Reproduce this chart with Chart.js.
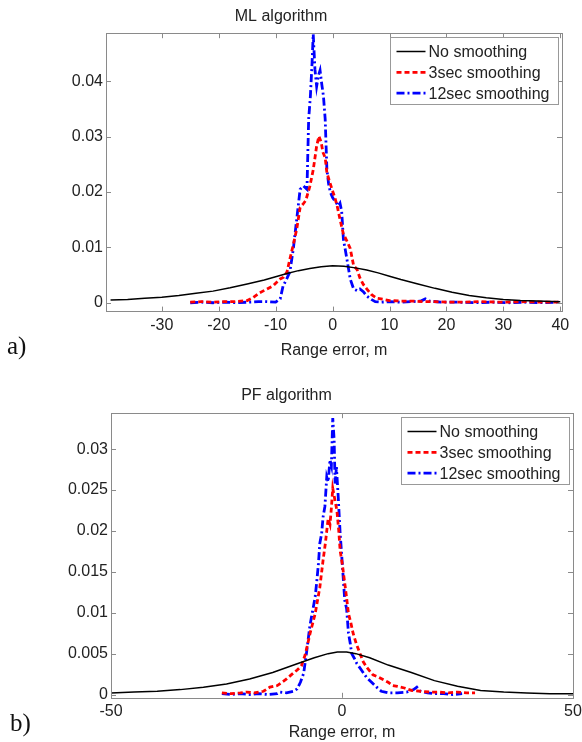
<!DOCTYPE html>
<html>
<head>
<meta charset="utf-8">
<script src="https://cdn.jsdelivr.net/npm/chart.js@4"></script>
<style>
  body { margin: 0; background: #fff; width: 582px; height: 742px; position: relative; overflow: hidden; }
  canvas { position: absolute; left: 0; }
  .tag { position: absolute; font-family: 'Liberation Serif', 'Times New Roman', serif; font-size: 25px; color: #111; line-height: 28px; }
</style>
</head>
<body>
<canvas id="mlChart" width="582" height="371" style="top:0"></canvas>
<canvas id="pfChart" width="582" height="371" style="top:371px"></canvas>
<div class="tag" style="left:7px;top:332px">a)</div>
<div class="tag" style="left:10px;top:709px">b)</div>
<script>
// ---- ML algorithm (top) ----
var mlNoneX = [-39, -36, -33, -30, -27, -24, -21, -18, -15, -12, -10, -8, -6, -4, -2, 0, 2, 4, 6, 8, 10, 12, 15, 18, 21, 24, 27, 30, 33, 36, 40];
var mlNoneY = [0.0005, 0.0006, 0.0008, 0.0010, 0.0013, 0.0017, 0.0021, 0.0027, 0.0034, 0.0041, 0.0047, 0.0053, 0.0058, 0.0062, 0.0065, 0.0067, 0.0066, 0.0063, 0.0059, 0.0054, 0.0048, 0.0042, 0.0034, 0.0026, 0.0019, 0.0013, 0.0009, 0.0006, 0.0004, 0.0003, 0.0002];

var mlS3X = [-25, -23, -21, -19, -17, -15, -14, -12.8, -11.5, -10.4, -9.2, -8.6, -8, -7.5, -6.9, -6.3, -5.7, -5.2, -4.7, -4.0, -3.4, -2.8, -2.4, -2.0, -1.7, -1.3, -1.0, -0.5, 0, 0.4, 0.8, 1.3, 1.9, 2.5, 3.1, 3.7, 4.3, 4.8, 5.4, 6, 6.8, 7.8, 9, 10, 12, 14, 16, 18, 20, 23, 26, 30, 34, 37, 40];
var mlS3Y = [0.0001, 0.0002, 0.0001, 0.0002, 0.0002, 0.0004, 0.0009, 0.0018, 0.0025, 0.0031, 0.0043, 0.0046, 0.0056, 0.0079, 0.0105, 0.0133, 0.0172, 0.0178, 0.0185, 0.0210, 0.0240, 0.0283, 0.0301, 0.0290, 0.0272, 0.0262, 0.0235, 0.0218, 0.0202, 0.0190, 0.0175, 0.0151, 0.0124, 0.0112, 0.0098, 0.0067, 0.0060, 0.0045, 0.0033, 0.0025, 0.0015, 0.0008, 0.0006, 0.0004, 0.0003, 0.0003, 0.0002, 0.0002, 0.0001, 0.0001, 0.0002, 0.0001, 0.0002, 0.0001, 0.0001];

var mlS12X = [-25, -23, -21, -19, -17, -15, -13, -11.5, -10, -9.2, -8.7, -8.1, -7.5, -6.9, -6.3, -5.7, -5.1, -4.5, -4.2, -3.9, -3.6, -3.4, -3.1, -2.8, -2.5, -2.2, -1.9, -1.6, -1.3, -1.0, -0.7, -0.4, 0, 0.4, 1.0, 1.3, 1.6, 1.9, 2.5, 3.1, 3.7, 4.3, 4.8, 5.4, 6, 6.8, 7.5, 8.5, 10, 12, 14, 15.5, 16.3, 17, 19, 22, 25, 28, 31, 34, 37, 40];
var mlS12Y = [0.0000, 0.0001, 0.0000, 0.0001, 0.0000, 0.0001, 0.0002, 0.0002, 0.0001, 0.0007, 0.0030, 0.0042, 0.0056, 0.0097, 0.0151, 0.0205, 0.0211, 0.0205, 0.0332, 0.0373, 0.0434, 0.0485, 0.0422, 0.0391, 0.0410, 0.0420, 0.0395, 0.0373, 0.0332, 0.0241, 0.0215, 0.0200, 0.0190, 0.0184, 0.0175, 0.0180, 0.0165, 0.0115, 0.0080, 0.0043, 0.0025, 0.0022, 0.0025, 0.0020, 0.0012, 0.0006, 0.0002, 0.0001, 0.0002, 0.0001, 0.0002, 0.0003, 0.0007, 0.0003, 0.0001, 0.0001, 0.0000, 0.0001, 0.0000, 0.0001, 0.0000, 0.0001];

var mlXTicks = [-30, -20, -10, 0, 10, 20, 30, 40];
var mlYTicks = [0, 0.01, 0.02, 0.03, 0.04];

// ---- PF algorithm (bottom) ----
var pfNoneX = [-50, -45, -40, -35, -30, -25, -20, -15, -10, -6, -3, -1, 1, 3, 6, 10, 15, 20, 25, 30, 35, 40, 45, 50];
var pfNoneY = [0.0002, 0.0003, 0.0004, 0.0006, 0.0009, 0.0013, 0.0019, 0.0027, 0.0037, 0.0045, 0.0050, 0.0052, 0.0052, 0.0050, 0.0045, 0.0036, 0.0027, 0.0017, 0.0010, 0.0005, 0.0003, 0.0002, 0.0001, 0.0001];

var pfS3X = [-26, -24, -22, -20.6, -19, -17, -15.6, -14, -12, -11, -9.7, -8.8, -8, -7.5, -6.9, -6.3, -5.8, -5.3, -4.8, -4.4, -4.1, -3.6, -3.3, -3.0, -2.6, -2.3, -2.0, -1.6, -1.1, -0.7, -0.4, 0.1, 0.6, 1.0, 1.4, 1.9, 2.4, 3.1, 3.9, 4.6, 5.4, 6.7, 8, 9, 10, 11, 12, 13.5, 15, 17, 19, 21, 23, 25, 27, 28.8];
var pfS3Y = [0.0002, 0.0001, 0.0002, 0.0003, 0.0002, 0.0004, 0.0009, 0.0011, 0.0019, 0.0024, 0.0030, 0.0035, 0.0048, 0.0060, 0.0075, 0.0088, 0.0099, 0.0115, 0.0131, 0.0150, 0.0164, 0.0185, 0.0200, 0.0215, 0.0208, 0.0228, 0.0252, 0.0240, 0.0225, 0.0200, 0.0176, 0.0158, 0.0136, 0.0118, 0.0099, 0.0088, 0.0075, 0.0062, 0.0050, 0.0040, 0.0033, 0.0024, 0.0021, 0.0018, 0.0015, 0.0011, 0.0010, 0.0008, 0.0005, 0.0004, 0.0003, 0.0003, 0.0002, 0.0003, 0.0002, 0.0002];

var pfS12X = [-26, -24, -22, -20, -18, -16, -14, -13.4, -12, -10.5, -9.7, -9, -8.3, -7.7, -7, -6.6, -6.2, -5.8, -5.5, -5.1, -4.8, -4.4, -4.1, -3.7, -3.3, -3.0, -2.6, -2.3, -2.0, -1.7, -1.5, -1.2, -0.8, -0.4, 0, 0.3, 0.6, 1.0, 1.4, 1.8, 2.1, 2.6, 3.2, 4.2, 5.3, 6.4, 7.5, 8.5, 10, 12, 14, 15.5, 16.2, 17, 18.5, 20, 22, 24, 26];
var pfS12Y = [0.0001, 0.0000, 0.0001, 0.0000, 0.0001, 0.0000, 0.0001, 0.0003, 0.0002, 0.0004, 0.0007, 0.0015, 0.0026, 0.0050, 0.0082, 0.0095, 0.0107, 0.0120, 0.0136, 0.0160, 0.0185, 0.0197, 0.0217, 0.0230, 0.0266, 0.0260, 0.0287, 0.0280, 0.0338, 0.0311, 0.0258, 0.0278, 0.0240, 0.0197, 0.0165, 0.0140, 0.0115, 0.0105, 0.0075, 0.0062, 0.0050, 0.0045, 0.0038, 0.0030, 0.0021, 0.0015, 0.0009, 0.0004, 0.0002, 0.0002, 0.0003, 0.0006, 0.0009, 0.0004, 0.0002, 0.0001, 0.0001, 0.0000, 0.0001];

var pfXTicks = [-50, 0, 50];
var pfYTicks = [0, 0.005, 0.01, 0.015, 0.02, 0.025, 0.03];

var seriesLabels = ['No smoothing', '3sec smoothing', '12sec smoothing'];

var FONT = "'Liberation Sans', Arial, Helvetica, sans-serif";
var INK = '#222';
var FRAME = '#8a8a8a';

function pts(xs, ys) {
    return xs.map(function (x, i) { return { x: x, y: ys[i] }; });
}

function fmt(v) {
    return v === 0 ? '0' : String(+v.toFixed(3));
}

// MATLAB-like axes box with inward ticks and a boxed legend in the top-right corner
var matlabBox = {
    id: 'matlabBox',
    afterDraw: function (chart) {
        var ctx = chart.ctx, a = chart.chartArea;
        var sx = chart.scales.x, sy = chart.scales.y;
        ctx.save();
        ctx.strokeStyle = FRAME;
        ctx.lineWidth = 1;
        ctx.strokeRect(Math.round(a.left) + 0.5, Math.round(a.top) + 0.5,
            Math.round(a.right - a.left), Math.round(a.bottom - a.top));
        ctx.beginPath();
        sx.ticks.forEach(function (t) {
            var px = Math.round(sx.getPixelForValue(t.value)) + 0.5;
            ctx.moveTo(px, a.bottom); ctx.lineTo(px, a.bottom - 5);
            ctx.moveTo(px, a.top); ctx.lineTo(px, a.top + 5);
        });
        sy.ticks.forEach(function (t) {
            var py = Math.round(sy.getPixelForValue(t.value)) + 0.5;
            ctx.moveTo(a.left, py); ctx.lineTo(a.left + 5, py);
            ctx.moveTo(a.right, py); ctx.lineTo(a.right - 5, py);
        });
        ctx.stroke();

        // legend
        var boxW = 168, boxH = 67;
        var bx = Math.round(a.right - 4 - boxW) + 0.5;
        var by = Math.round(a.top + 4) + 0.5;
        ctx.fillStyle = '#fff';
        ctx.fillRect(bx, by, boxW, boxH);
        ctx.strokeStyle = '#999';
        ctx.strokeRect(bx, by, boxW, boxH);
        ctx.font = '16px ' + FONT;
        ctx.textBaseline = 'middle';
        chart.data.datasets.forEach(function (ds, i) {
            var ry = by + 14 + i * 20.8;
            ctx.beginPath();
            ctx.strokeStyle = ds.borderColor;
            ctx.lineWidth = ds.borderWidth;
            ctx.setLineDash(ds.borderDash || []);
            ctx.moveTo(bx + 6, ry);
            ctx.lineTo(bx + 35, ry);
            ctx.stroke();
            ctx.setLineDash([]);
            ctx.fillStyle = INK;
            ctx.fillText(ds.label, bx + 38, ry + 1);
        });
        ctx.restore();
    }
};

function makeChart(id, opt) {
    var ctx = document.getElementById(id).getContext('2d');
    return new Chart(ctx, {
        type: 'line',
        data: {
            datasets: [{
                label: seriesLabels[0],
                data: opt.none,
                borderColor: '#000000',
                borderWidth: 1.5,
                pointRadius: 0
            }, {
                label: seriesLabels[1],
                data: opt.s3,
                borderColor: '#ff0000',
                borderWidth: 2.8,
                borderDash: [5, 3],
                pointRadius: 0
            }, {
                label: seriesLabels[2],
                data: opt.s12,
                borderColor: '#0000ff',
                borderWidth: 2.8,
                borderDash: [8, 3, 2, 3],
                pointRadius: 0
            }]
        },
        options: {
            responsive: false,
            animation: false,
            devicePixelRatio: 1,
            layout: { padding: opt.pad },
            plugins: {
                legend: { display: false },
                tooltip: { enabled: false },
                title: {
                    display: true,
                    text: opt.title,
                    color: INK,
                    font: { family: FONT, size: 16, weight: 'normal' },
                    padding: opt.titlePad
                }
            },
            scales: {
                x: {
                    type: 'linear',
                    min: opt.xMin,
                    max: opt.xMax,
                    afterBuildTicks: function (s) { s.ticks = opt.xTicks.map(function (v) { return { value: v }; }); },
                    afterFit: function (s) { s.paddingLeft = 0; s.paddingRight = 0; },
                    grid: { display: false, drawTicks: false },
                    border: { display: false },
                    ticks: { color: INK, font: { family: FONT, size: 16 }, padding: opt.xTickPad, maxRotation: 0, autoSkip: false, callback: fmt },
                    title: {
                        display: true,
                        text: 'Range error, m',
                        color: INK,
                        font: { family: FONT, size: 16, lineHeight: opt.xTitleLH },
                        padding: opt.xTitlePad
                    }
                },
                y: {
                    type: 'linear',
                    min: opt.yMin,
                    max: opt.yMax,
                    afterBuildTicks: function (s) { s.ticks = opt.yTicks.map(function (v) { return { value: v }; }); },
                    afterFit: function (s) { s.width = opt.yWidth; s.paddingTop = 0; s.paddingBottom = 0; },
                    grid: { display: false, drawTicks: false },
                    border: { display: false },
                    ticks: { color: INK, font: { family: FONT, size: 16 }, padding: 3, autoSkip: false, callback: fmt }
                }
            }
        },
        plugins: [matlabBox]
    });
}

makeChart('mlChart', {
    title: 'ML algorithm',
    none: pts(mlNoneX, mlNoneY),
    s3: pts(mlS3X, mlS3Y),
    s12: pts(mlS12X, mlS12Y),
    xMin: -39.8, xMax: 40.3, xTicks: mlXTicks,
    yMin: -0.0016, yMax: 0.0487, yTicks: mlYTicks,
    yWidth: 106,
    pad: { left: 0, right: 20, top: 0, bottom: 8 },
    titlePad: { top: 7, bottom: 7 },
    xTickPad: 4,
    xTitlePad: { top: 2, bottom: 3 },
    xTitleLH: 1.2
});

makeChart('pfChart', {
    title: 'PF algorithm',
    none: pts(pfNoneX, pfNoneY),
    s3: pts(pfS3X, pfS3Y),
    s12: pts(pfS12X, pfS12Y),
    xMin: -50, xMax: 50, xTicks: pfXTicks,
    yMin: -0.0004, yMax: 0.0344, yTicks: pfYTicks,
    yWidth: 111,
    pad: { left: 0, right: 9, top: 0, bottom: 0 },
    titlePad: { top: 15, bottom: 8 },
    xTickPad: 4,
    xTitlePad: { top: 0, bottom: 1 },
    xTitleLH: 1.0
});
</script>
</body>
</html>
